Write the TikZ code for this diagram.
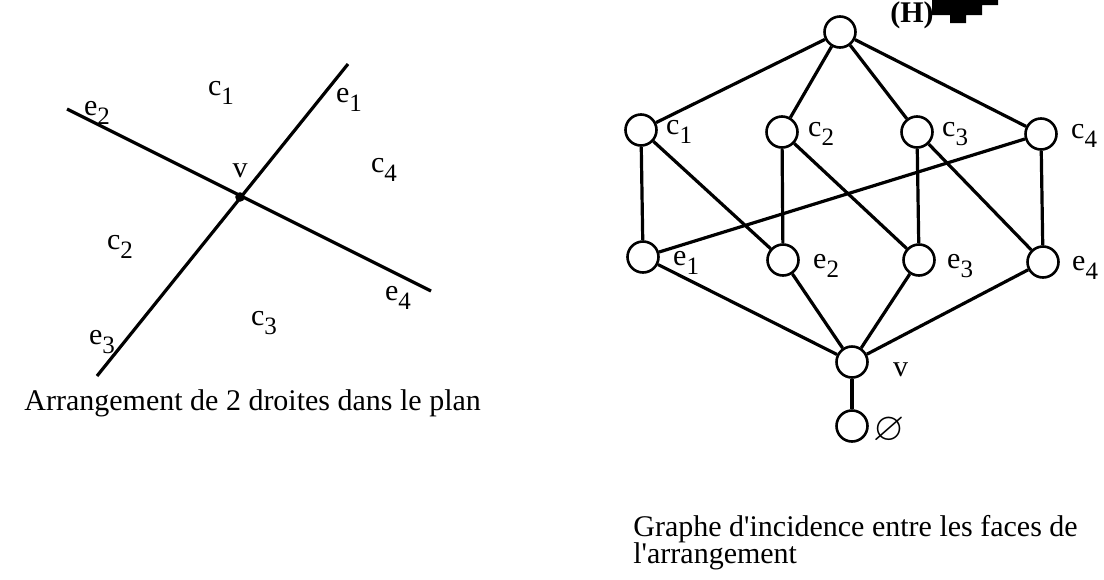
\documentclass[tikz,border=0pt]{standalone}
\usepackage{fontspec}
\usepackage{amssymb}
\setmainfont{Liberation Serif}
\usetikzlibrary{positioning}
% subscript index, Times-like proportions
\newcommand{\idx}[1]{\raisebox{-0.3em}{\fontsize{12.5}{12.5}\selectfont #1}}

\begin{document}
\begin{tikzpicture}[x=0.5pt, y=-0.5pt,
    font=\fontsize{15}{14}\selectfont,
    vtx/.style={circle, draw, line width=1.3pt, minimum size=15.5pt, inner sep=0pt, fill=white},
    edge/.style={line width=1.6pt},
    lab/.style={inner sep=0pt},
    caption/.style={inner sep=0pt, anchor=base west}]

\useasboundingbox (0,0) rectangle (1104,579);

%% ── left: the two lines of the arrangement ──────────────────────
\coordinate (e2end) at (67,109);
\coordinate (e4end) at (431,291);
\coordinate (e1end) at (348,64);
\coordinate (e3end) at (97,376);
\coordinate (v0) at (240,197);
\draw[edge] (e2end) -- (e4end);
\draw[edge] (e3end) -- (e1end);
\fill (v0) circle (2.4pt);

% faces, edges and the vertex
\node[lab] (lc1) at (221,93) {c\idx{1}};
\node[lab] (lc2) at (120,247) {c\idx{2}};
\node[lab] (lc3) at (264,323) {c\idx{3}};
\node[lab] (lc4) at (384,170) {c\idx{4}};
\node[lab] (le1) at (349,100) {e\idx{1}};
\node[lab] (le2) at (97,113) {e\idx{2}};
\node[lab] (le3) at (102,342) {e\idx{3}};
\node[lab] (le4) at (398,298) {e\idx{4}};
\node[lab] (lv) at (240,171) {v};

\node[caption] (capl) at (24,410) {Arrangement de 2 droites dans le plan};

%% ── right: incidence graph ──────────────────────────────────────
\node[vtx] (H) at (840,32) {};
\foreach \n/\x/\y in {c1/641/130, c2/782/132, c3/917/132, c4/1041/134,
                      e1/643/257, e2/783/260, e3/919/260, e4/1043/262}{
  \node[vtx] (\n) at (\x,\y) {};
}
\node[vtx] (v) at (852,362) {};
\node[vtx] (empty) at (852,426) {};

\foreach \a/\b in {H/c1, H/c2, H/c3, H/c4,
                   c1/e1, c1/e2, c2/e2, c2/e3, c3/e3, c3/e4, c4/e4, c4/e1,
                   e1/v, e2/v, e3/v, e4/v, v/empty}{
  \draw[edge] (\a) -- (\b);
}

% node labels
\foreach \n/\t/\d in {c1/1/4pt, c2/2/4.5pt, c3/3/4pt, c4/4/6.5pt}{
  \node[lab, anchor=west] (\n l) at ([xshift=\d, yshift=-1pt]\n.east) {c\idx{\t}};
}
\foreach \n/\t/\d in {e1/1/6.5pt, e2/2/6.5pt, e3/3/5.5pt, e4/4/6pt}{
  \node[lab, anchor=west] (\n l) at ([xshift=\d, yshift=-3pt]\n.east) {e\idx{\t}};
}
\node[lab, anchor=west] (vl) at ([xshift=12pt, yshift=-4pt]v.east) {v};
\node[lab, anchor=west, font=\fontsize{20}{20}\selectfont] (emptyl) at ([xshift=2pt, yshift=-2pt]empty.east) {$\varnothing$};

% graph name and the black mark beside it
\node[lab, font=\fontsize{15}{14}\selectfont\bfseries] (Hl) at (912,15) {(H)};
\fill (932,0) -- (998,0) -- (998,5) -- (982,5) -- (982,15) -- (966,15)
      -- (966,23) -- (950,23) -- (950,15) -- (932,15) -- cycle;

\node[caption] (capr1) at (633,536) {Graphe d\textquotesingle incidence entre les faces de};
\node[caption] (capr2) at (633,563) {l\textquotesingle arrangement};

\end{tikzpicture}
\end{document}
